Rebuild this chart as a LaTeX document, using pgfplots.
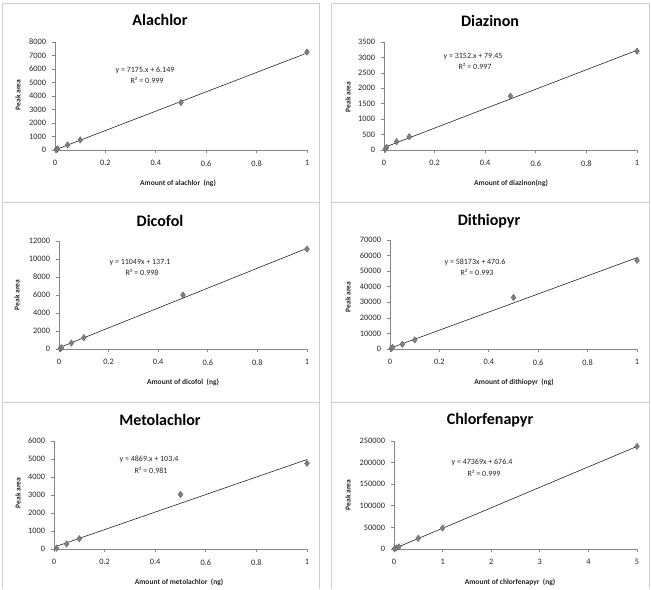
\documentclass[border=0pt]{standalone}
\usepackage{pgfplots}
\pgfplotsset{compat=1.18}
\usepackage{fontspec}
\setmainfont{Carlito}

\definecolor{axisgray}{HTML}{868686}
\definecolor{framegray}{HTML}{D0D0D0}
\definecolor{markgray}{HTML}{7F7F7F}
\definecolor{labelgray}{HTML}{262626}

% common look of the six calibration panels
\pgfplotsset{
  calib/.style={
    scale only axis, anchor=south west,
    axis lines=left,
    axis line style={-, draw=axisgray, line width=0.7pt},
    xmin=0, ymin=0,
    tick align=outside, major tick length=3pt,
    tick style={draw=axisgray, line width=0.7pt},
    every tick label/.append style={font=\fontsize{8.3}{9}\selectfont, text=labelgray},
    /pgf/number format/assume math mode=true,
    /pgf/number format/1000 sep={},
    xticklabel style={/pgf/number format/fixed, yshift=-4pt},
    yticklabel style={/pgf/number format/fixed, /pgf/number format/precision=0, xshift=-2.5pt},
    scaled x ticks=false, scaled y ticks=false,
    clip=false,
  },
  pts/.style={only marks, mark=diamond*, mark size=3.3pt,
    mark options={fill=markgray, draw=markgray!80!black, line width=0.3pt}},
  fit/.style={no marks, draw=black!85, line width=0.6pt},
}

\newcommand{\paneltext}[8]{%
  % #1,#2 title pos; #3 title; #4,#5 x-label pos; #6 x-label; #7,#8 y-label pos
  \node[font=\bfseries\fontsize{16}{18}\selectfont] at (#1,589-#2) {#3};
  \node[font=\bfseries\fontsize{7.5}{9}\selectfont, text=labelgray] at (#4,589-#5) {#6};
  \node[font=\bfseries\fontsize{7.5}{9}\selectfont, text=labelgray, rotate=90] at (#7,589-#8) {Peak area};
}
\newcommand{\eqtext}[5]{%
  \node[font=\fontsize{8}{9}\selectfont, text=labelgray] at (#1,589-#2) {#3};
  \node[font=\fontsize{8}{9}\selectfont, text=labelgray] at (#1+2,589-#4) {#5};
}

\begin{document}
\begin{tikzpicture}[x=1pt, y=1pt]
  % page background and panel frames
  \fill[white] (0,0) rectangle (651,589);
  \draw[framegray, line width=0.8pt] (2,589-3) rectangle (319,589-202);
  \draw[framegray, line width=0.8pt] (331,589-3) rectangle (649,589-202);
  \draw[framegray, line width=0.8pt] (2,589-202) rectangle (319,589-402);
  \draw[framegray, line width=0.8pt] (331,589-202) rectangle (649,589-402);
  \draw[framegray, line width=0.8pt] (2,0) -- (2,589-402) -- (319,589-402) -- (319,0);
  \draw[framegray, line width=0.8pt] (331,0) -- (331,589-402) -- (649,589-402) -- (649,0);

  % ---------------- Alachlor ----------------
  \begin{axis}[calib, at={(55pt,439pt)}, width=252pt, height=108pt,
      xmax=1, ymax=8000, xtick={0,0.2,...,1}, ytick={0,1000,...,8000}]
    \addplot[pts] coordinates {(0.005,40) (0.01,75) (0.05,380) (0.1,750) (0.5,3520) (1,7250)};
    \addplot[fit] coordinates {(0.005,42.0) (1,7181.1)};
  \end{axis}
  \paneltext{160}{20}{Alachlor}{178}{183}{Amount of alachlor~~(ng)}{18}{95}
  \eqtext{145}{70}{y = 7175.x + 6.149}{80}{R² = 0.999}

  % ---------------- Diazinon ----------------
  \begin{axis}[calib, at={(384pt,439pt)}, width=253pt, height=108pt,
      xmax=1, ymax=3500, xtick={0,0.2,...,1}, ytick={0,500,...,3500}]
    \addplot[pts] coordinates {(0.005,30) (0.01,80) (0.05,270) (0.1,430) (0.5,1745) (1,3200)};
    \addplot[fit] coordinates {(0.005,95.2) (1,3231.5)};
  \end{axis}
  \paneltext{490}{21}{Diazinon}{511}{183}{Amount of diazinon(ng)}{348}{97}
  \eqtext{473}{57}{y = 3152.x + 79.45}{66}{R² = 0.997}

  % ---------------- Dicofol ----------------
  \begin{axis}[calib, at={(59pt,240pt)}, width=248pt, height=108pt,
      xmax=1, ymax=12000, xtick={0,0.2,...,1}, ytick={0,2000,...,12000}]
    \addplot[pts] coordinates {(0.005,60) (0.01,130) (0.05,660) (0.1,1250) (0.5,6000) (1,11100)};
    \addplot[fit] coordinates {(0.005,192.3) (1,11186.1)};
  \end{axis}
  \paneltext{160}{221}{Dicofol}{183}{382}{Amount of dicofol~~(ng)}{17}{295}
  \eqtext{140}{263}{y = 11049x + 137.1}{272}{R² = 0.998}

  % ---------------- Dithiopyr ----------------
  \begin{axis}[calib, at={(390pt,240pt)}, width=247pt, height=109pt,
      xmax=1, ymax=70000, xtick={0,0.2,...,1}, ytick={0,10000,...,70000}]
    \addplot[pts] coordinates {(0.005,300) (0.01,1000) (0.05,3000) (0.1,5800) (0.5,33000) (1,57000)};
    \addplot[fit] coordinates {(0.005,761.5) (1,58643.6)};
  \end{axis}
  \paneltext{489}{221}{Dithiopyr}{514}{382}{Amount of dithiopyr~~(ng)}{348}{297}
  \eqtext{475}{262}{y = 58173x + 470.6}{272}{R² = 0.993}

  % ---------------- Metolachlor ----------------
  \begin{axis}[calib, at={(54pt,40pt)}, width=253pt, height=108pt,
      xmax=1, ymax=6000, xtick={0,0.2,...,1}, ytick={0,1000,...,6000}]
    \addplot[pts] coordinates {(0.01,50) (0.05,280) (0.1,570) (0.5,3030) (1,4760)};
    \addplot[fit] coordinates {(0.01,152.1) (1,4972.4)};
  \end{axis}
  \paneltext{160}{420}{Metolachlor}{179}{582}{Amount of metolachlor~~(ng)}{18}{493}
  \eqtext{149}{459}{y = 4869.x + 103.4}{470}{R² = 0.981}

  % ---------------- Chlorfenapyr ----------------
  \begin{axis}[calib, at={(394pt,40pt)}, width=243pt, height=108pt,
      xmax=5, ymax=250000, xtick={0,1,...,5}, ytick={0,50000,...,250000}]
    \addplot[pts] coordinates {(0.01,500) (0.05,2500) (0.1,5000) (0.5,25000) (1,48500) (5,237500)};
    \addplot[fit] coordinates {(0.01,1150.1) (5,237521.4)};
  \end{axis}
  \paneltext{490}{420}{Chlorfenapyr}{510}{582}{Amount of chlorfenapyr~~(ng)}{348}{495}
  \eqtext{482}{462}{y = 47369x + 676.4}{473}{R² = 0.999}
\end{tikzpicture}
\end{document}
